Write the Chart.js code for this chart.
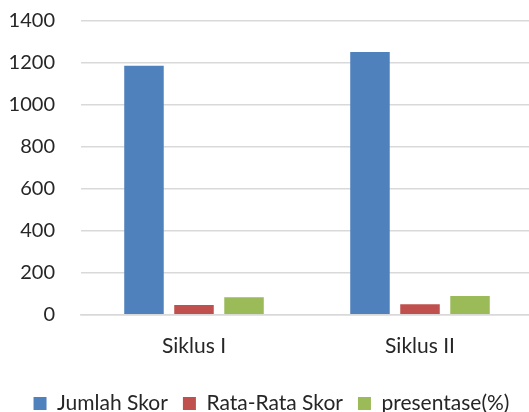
<!doctype html>
<html>
<head>
<meta charset="utf-8">
<script src="https://cdn.jsdelivr.net/npm/chart.js"></script>
<style>
  body { margin: 0; overflow: hidden; background: #fff; }
  #wrap { width: 534px; height: 441px; margin-top: -17px; position: relative; }
</style>
</head>
<body>
<div id="wrap"><canvas id="chart"></canvas></div>
<script>
const categories = ['Siklus I', 'Siklus II']
const jumlahSkor = [1187, 1252]
const rataRataSkor = [47, 50]
const presentase = [84, 89]
const yTicks = [0, 200, 400, 600, 800, 1000, 1200, 1400]

const family = 'Lato, "Open Sans", sans-serif'
const textColor = '#262626'

const bar = (label, data, color) => ({
  label,
  data,
  backgroundColor: color,
  borderWidth: 0,
  categoryPercentage: 0.664,
  barPercentage: 0.79,
})

new Chart(document.getElementById('chart'), {
  type: 'bar',
  data: {
    labels: categories,
    datasets: [
      bar('Jumlah Skor', jumlahSkor, '#4F81BD'),
      bar('Rata-Rata Skor', rataRataSkor, '#C0504D'),
      bar('presentase(%)', presentase, '#9BBB59'),
    ],
  },
  options: {
    responsive: true,
    maintainAspectRatio: false,
    animation: false,
    layout: { padding: { left: 10, right: 1, top: 0, bottom: 0 } },
    plugins: {
      tooltip: { enabled: false },
      legend: {
        position: 'bottom',
        labels: {
          font: { family, size: 21 },
          color: textColor,
          boxWidth: 13,
          boxHeight: 13,
          padding: 15,
        },
      },
    },
    scales: {
      x: {
        grid: { display: false, drawTicks: false },
        border: { color: '#D9D9D9', width: 1.5 },
        ticks: { font: { family, size: 21 }, color: textColor, padding: 19 },
      },
      y: {
        min: 0,
        max: 1400,
        afterBuildTicks: (axis) => {
          axis.ticks = yTicks.map((v) => ({ value: v }))
        },
        afterFit: (axis) => {
          axis.width = 71
        },
        grid: { color: '#D9D9D9', lineWidth: 1.5, drawTicks: false },
        border: { display: false },
        ticks: {
          font: { family, size: 20 },
          color: textColor,
          padding: 26,
          callback: (v) => String(v),
        },
      },
    },
  },
})
</script>
</body>
</html>
